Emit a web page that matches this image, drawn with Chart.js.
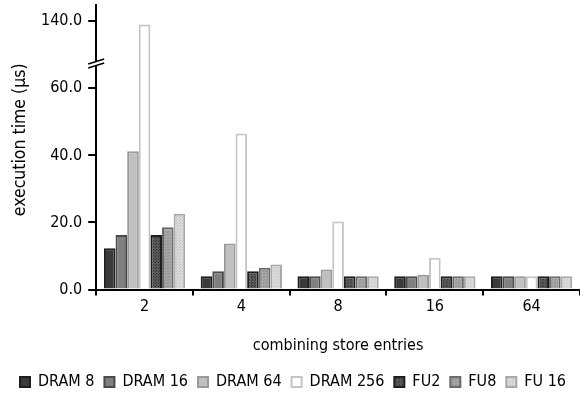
<!DOCTYPE html>
<html>
<head>
<meta charset="utf-8">
<script src="https://cdn.jsdelivr.net/npm/chart.js@4"></script>
<style>
  body { margin: 0; background: #fff; }
  #wrap { width: 580px; height: 400px; }
</style>
</head>
<body>
<div id="wrap"><canvas id="chart"></canvas></div>
<script>
// combining store entries
const categories = ['2', '4', '8', '16', '64'];

// execution time (us) per configuration
const dram8   = [12.3, 4.0, 4.0, 4.0, 4.0];
const dram16  = [16.3, 5.5, 4.0, 4.0, 4.0];
const dram64  = [41.2, 13.7, 6.0, 4.4, 4.0];
const dram256 = [138.0, 46.5, 20.3, 9.5, 4.0];
const fu2     = [16.3, 5.5, 4.0, 4.0, 4.0];
const fu8     = [18.6, 6.5, 4.0, 4.0, 4.0];
const fu16    = [22.6, 7.5, 4.0, 4.0, 4.0];

const yTicks = [0, 20, 40, 60, 140];

// broken axis: values above 60 are squeezed into the top segment
const BREAK_LOW = 60, TOP_VAL = 140, TOP_POS = 80;
function toAxis(v) {
  return v <= BREAK_LOW ? v : TOP_POS - (TOP_VAL - v) * 0.5;
}
function fromAxis(p) {
  return p <= BREAK_LOW ? p : TOP_VAL - (TOP_POS - p) / 0.5;
}

function dotPattern(bg, dot) {
  const c = document.createElement('canvas');
  c.width = 3; c.height = 3;
  const g = c.getContext('2d');
  g.fillStyle = bg; g.fillRect(0, 0, 3, 3);
  g.fillStyle = dot; g.fillRect(0, 0, 1, 1); g.fillRect(2, 1, 1, 1);
  return g.createPattern(c, 'repeat');
}

const series = [
  { label: 'DRAM 8',   data: dram8,   fill: '#3a3a3a', border: '#1e1e1e' },
  { label: 'DRAM 16',  data: dram16,  fill: '#808080', border: '#4a4a4a' },
  { label: 'DRAM 64',  data: dram64,  fill: '#c0c0c0', border: '#999999' },
  { label: 'DRAM 256', data: dram256, fill: '#ffffff', border: '#c4c4c4' },
  { label: 'FU2',      data: fu2,     fill: dotPattern('#5a5a5a', '#333333'), border: '#1e1e1e' },
  { label: 'FU8',      data: fu8,     fill: dotPattern('#a6a6a6', '#8a8a8a'), border: '#6a6a6a' },
  { label: 'FU 16',    data: fu16,    fill: dotPattern('#dadada', '#c4c4c4'), border: '#a8a8a8' }
];

const breakMarks = {
  id: 'breakMarks',
  afterDraw(chart) {
    const ctx = chart.ctx;
    const y = chart.scales.y;
    const x0 = y.right;
    const yb = y.getPixelForValue(67.5);
    ctx.save();
    ctx.fillStyle = '#fff';
    ctx.fillRect(x0 - 3, yb - 2, 6, 4);
    ctx.strokeStyle = '#000';
    ctx.lineWidth = 1.5;
    ctx.beginPath();
    ctx.moveTo(x0 - 8, yb + 1); ctx.lineTo(x0 + 8, yb - 4);
    ctx.moveTo(x0 - 8, yb + 5); ctx.lineTo(x0 + 8, yb);
    ctx.stroke();
    ctx.restore();
  }
};

Chart.defaults.font.family = '"DejaVu Sans Condensed", "DejaVu Sans", Verdana, sans-serif';
Chart.defaults.color = '#000';

new Chart(document.getElementById('chart'), {
  type: 'bar',
  data: {
    labels: categories,
    datasets: series.map(s => ({
      label: s.label,
      data: s.data.map(toAxis),
      backgroundColor: s.fill,
      borderColor: s.border,
      borderWidth: 2,
      barPercentage: 1.0,
      categoryPercentage: 0.84
    }))
  },
  options: {
    responsive: true,
    maintainAspectRatio: false,
    animation: false,
    layout: { padding: { top: 5, right: 0, left: 6, bottom: 0 } },
    plugins: {
      tooltip: { enabled: false },
      legend: {
        position: 'bottom',
        labels: {
          boxWidth: 10, boxHeight: 10, padding: 10,
          font: { size: 16 }, color: '#000'
        }
      }
    },
    scales: {
      x: {
        grid: { offset: true, drawOnChartArea: false, color: '#000', tickLength: 6, lineWidth: 2 },
        border: { color: '#000', width: 2 },
        ticks: { font: { size: 16 }, padding: 2 },
        title: { display: true, text: 'combining store entries', font: { size: 16 }, padding: { top: 17, bottom: 9 } }
      },
      y: {
        min: 0, max: 84.8,
        afterBuildTicks(axis) {
          axis.ticks = yTicks.map(v => ({ value: toAxis(v) }));
        },
        afterFit(axis) {
          axis.paddingTop = 0;
        },
        grid: { drawOnChartArea: false, color: '#000', tickLength: 8, lineWidth: 2 },
        border: { color: '#000', width: 2 },
        ticks: {
          font: { size: 16 }, padding: 6,
          callback: v => fromAxis(v).toFixed(1)
        },
        title: { display: true, text: '   execution time (\u03bcs)', font: { size: 17.5 }, padding: { top: 4, bottom: 4 } }
      }
    }
  },
  plugins: [breakMarks]
});
</script>
</body>
</html>
